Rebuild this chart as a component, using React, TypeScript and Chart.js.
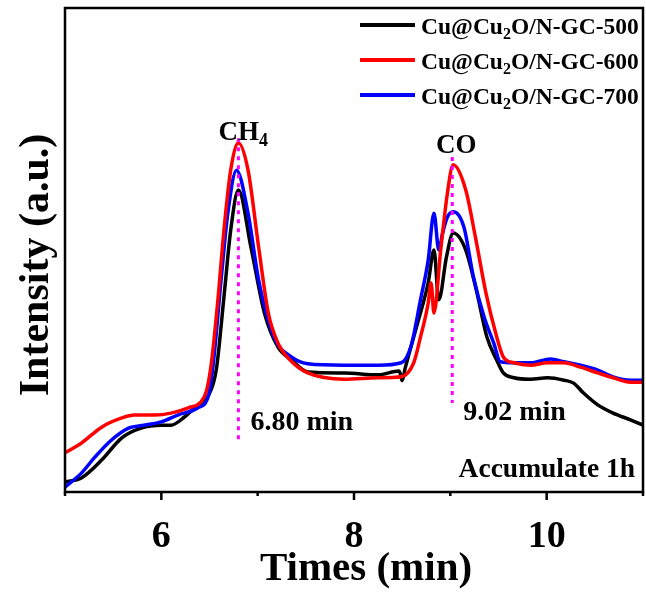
import React, { useEffect, useRef } from "react";
import { Chart, registerables } from "chart.js";

Chart.register(...registerables);

// Retention time (min) and detector intensity (a.u.) for each catalyst
const TIME_500 = [5.0, 5.17, 5.38, 5.59, 5.79, 6.0, 6.1, 6.24, 6.38, 6.49, 6.57, 6.65, 6.72, 6.8, 6.93, 7.07, 7.21, 7.35, 7.52, 7.9, 8.25, 8.47, 8.5, 8.53, 8.66, 8.77, 8.83, 8.88, 8.96, 9.03, 9.16, 9.27, 9.38, 9.48, 9.55, 9.66, 9.83, 10.01, 10.18, 10.28, 10.38, 10.53, 10.69, 10.87, 11.0];
const INT_500 = [2.1, 2.9, 6.6, 11.2, 13.2, 13.8, 13.8, 15.5, 18.0, 20.0, 25.2, 40.3, 54.1, 62.4, 50.6, 37.0, 30.0, 27.3, 24.8, 24.6, 24.2, 25.0, 23.0, 25.5, 34.9, 43.2, 50.0, 39.7, 48.6, 53.5, 50.0, 41.7, 32.0, 27.3, 24.6, 23.6, 23.3, 23.6, 23.1, 22.5, 20.5, 18.0, 16.3, 14.9, 13.8];

const TIME_600 = [5.0, 5.17, 5.38, 5.59, 5.72, 5.93, 6.1, 6.28, 6.41, 6.47, 6.52, 6.59, 6.65, 6.72, 6.8, 6.9, 7.01, 7.11, 7.21, 7.35, 7.52, 7.9, 8.25, 8.49, 8.62, 8.69, 8.77, 8.8, 8.83, 8.9, 8.97, 9.03, 9.16, 9.26, 9.37, 9.47, 9.55, 9.66, 9.83, 10.01, 10.18, 10.35, 10.53, 10.69, 10.87, 11.0];
const INT_600 = [8.1, 10.1, 13.4, 15.3, 15.9, 15.9, 16.3, 17.4, 18.6, 21.0, 26.7, 40.3, 54.1, 66.5, 72.1, 66.5, 50.6, 37.0, 30.8, 27.0, 24.6, 23.3, 23.6, 23.8, 26.7, 32.0, 39.0, 43.2, 37.0, 50.0, 61.8, 67.6, 62.4, 52.7, 41.1, 32.9, 27.9, 26.7, 26.2, 26.7, 26.7, 25.8, 24.6, 23.6, 22.7, 22.7];

const TIME_700 = [5.0, 5.17, 5.31, 5.48, 5.66, 5.82, 6.0, 6.17, 6.38, 6.49, 6.54, 6.62, 6.69, 6.78, 6.9, 7.01, 7.17, 7.35, 7.52, 7.9, 8.25, 8.49, 8.59, 8.69, 8.77, 8.83, 8.88, 8.92, 8.97, 9.03, 9.14, 9.24, 9.35, 9.45, 9.52, 9.66, 9.83, 10.04, 10.18, 10.35, 10.53, 10.69, 10.87, 11.0];
const INT_700 = [1.0, 3.9, 7.2, 10.7, 13.2, 13.8, 14.5, 15.9, 17.4, 20.0, 26.7, 43.8, 57.6, 66.5, 57.6, 43.8, 32.0, 27.9, 26.5, 26.2, 26.2, 26.7, 30.0, 39.7, 47.9, 57.6, 50.0, 53.5, 56.8, 57.9, 54.8, 44.4, 36.2, 30.8, 26.9, 26.7, 26.7, 27.5, 26.9, 26.2, 25.2, 23.8, 23.1, 23.1];

// "_" marks the following character as a subscript
const SERIES_LABELS = ["Cu@Cu_2O/N-GC-500", "Cu@Cu_2O/N-GC-600", "Cu@Cu_2O/N-GC-700"];
const SERIES_COLORS = ["#000000", "#ff0000", "#0000ff"];

const X_TICKS = [5, 6, 7, 8, 9, 10, 11];
const X_TICK_LABELS = ["", "6", "", "8", "", "10", ""];

// Peak retention markers: time, top and bottom of the dotted guide
const PEAK_TIMES = [6.8, 9.02];
const PEAK_TOPS = [73.1, 69.2];
const PEAK_BOTTOMS = [10.3, 18.4];
const PEAK_NAMES = ["CH_4", "CO"];
const PEAK_TIME_LABELS = ["6.80 min", "9.02 min"];

const NOTE = "Accumulate 1h";
const X_TITLE = "Times (min)";
const Y_TITLE = "Intensity (a.u.)";

const SERIF = '"Times New Roman", "Liberation Serif", serif';

function segments(label: string): { text: string; sub: boolean }[] {
  const out: { text: string; sub: boolean }[] = [];
  const re = /_(.)/g;
  let last = 0;
  let m: RegExpExecArray | null;
  while ((m = re.exec(label))) {
    if (m.index > last) out.push({ text: label.slice(last, m.index), sub: false });
    out.push({ text: m[1], sub: true });
    last = m.index + 2;
  }
  if (last < label.length) out.push({ text: label.slice(last), sub: false });
  return out;
}

function richWidth(ctx: CanvasRenderingContext2D, label: string, size: number, subSize: number) {
  let w = 0;
  for (const s of segments(label)) {
    ctx.font = `bold ${s.sub ? subSize : size}px ${SERIF}`;
    w += ctx.measureText(s.text).width;
  }
  return w;
}

function drawRich(ctx: CanvasRenderingContext2D, label: string, x: number, y: number, size: number, subSize: number, subDrop: number) {
  let cx = x;
  ctx.textAlign = "left";
  ctx.textBaseline = "alphabetic";
  for (const s of segments(label)) {
    ctx.font = `bold ${s.sub ? subSize : size}px ${SERIF}`;
    ctx.fillText(s.text, cx, s.sub ? y + subDrop : y);
    cx += ctx.measureText(s.text).width;
  }
}

const decorations = {
  id: "decorations",
  afterDatasetsDraw(chart: any) {
    const { ctx, scales } = chart;
    const xs = scales.x;
    const ys = scales.y;
    ctx.save();
    ctx.strokeStyle = "#ff00ff";
    ctx.lineWidth = 3;
    ctx.setLineDash([4, 5]);
    PEAK_TIMES.forEach((t, i) => {
      const x = xs.getPixelForValue(t);
      ctx.beginPath();
      ctx.moveTo(x, ys.getPixelForValue(PEAK_TOPS[i]));
      ctx.lineTo(x, ys.getPixelForValue(PEAK_BOTTOMS[i]));
      ctx.stroke();
    });
    ctx.restore();
  },
  afterDraw(chart: any) {
    const { ctx, chartArea, scales } = chart;
    const xs = scales.x;
    const { left, right, top, bottom } = chartArea;
    ctx.save();
    ctx.fillStyle = "#000";
    ctx.strokeStyle = "#000";

    // frame
    ctx.lineWidth = 2.5;
    ctx.strokeRect(left, top, right - left, bottom - top);

    // bottom ticks and labels
    X_TICKS.forEach((t, i) => {
      const x = xs.getPixelForValue(t);
      const major = X_TICK_LABELS[i] !== "";
      ctx.beginPath();
      ctx.moveTo(x, bottom);
      ctx.lineTo(x, bottom + (major ? 8 : 4));
      ctx.stroke();
      if (major) {
        ctx.font = `bold 38px ${SERIF}`;
        ctx.textAlign = "center";
        ctx.textBaseline = "alphabetic";
        ctx.fillText(X_TICK_LABELS[i], x, bottom + 55);
      }
    });

    // axis titles
    ctx.font = `bold 41px ${SERIF}`;
    ctx.textAlign = "center";
    ctx.textBaseline = "alphabetic";
    ctx.fillText(X_TITLE, (left + right) / 2 + 12, bottom + 88);

    ctx.save();
    ctx.translate(48, (top + bottom) / 2 + 15);
    ctx.rotate(-Math.PI / 2);
    ctx.font = `bold 42px ${SERIF}`;
    ctx.textAlign = "center";
    ctx.fillText(Y_TITLE, 0, 0);
    ctx.restore();

    // legend
    SERIES_LABELS.forEach((label, i) => {
      const y = top + 17 + i * 35;
      ctx.strokeStyle = SERIES_COLORS[i];
      ctx.lineWidth = 4;
      ctx.beginPath();
      ctx.moveTo(360, y);
      ctx.lineTo(415, y);
      ctx.stroke();
      ctx.fillStyle = "#000";
      drawRich(ctx, label, 421, y + 9, 23.5, 16, 5);
    });

    // peak names and retention times
    const ys = scales.y;
    PEAK_NAMES.forEach((name, i) => {
      const x = xs.getPixelForValue(PEAK_TIMES[i]);
      const w = richWidth(ctx, name, 27, 18);
      const y = ys.getPixelForValue(PEAK_TOPS[i]) + (i === 0 ? 2 : -4);
      drawRich(ctx, name, x - (i === 0 ? 20 : w / 2 - 4), y, 27, 18, 6);
      ctx.font = `bold 28px ${SERIF}`;
      ctx.textAlign = "left";
      ctx.fillText(PEAK_TIME_LABELS[i], x + (i === 0 ? 12 : 11), ys.getPixelForValue(PEAK_BOTTOMS[i]) + (i === 0 ? -12 : 17));
    });

    ctx.font = `bold 27.5px ${SERIF}`;
    ctx.textAlign = "right";
    ctx.fillText(NOTE, right - 8, bottom - 15);

    ctx.restore();
  },
};

export default function App() {
  const canvasRef = useRef<HTMLCanvasElement | null>(null);

  useEffect(() => {
    const canvas = canvasRef.current;
    if (!canvas) return;
    const series = [
      { t: TIME_500, v: INT_500 },
      { t: TIME_600, v: INT_600 },
      { t: TIME_700, v: INT_700 },
    ];
    const drawOrder = [2, 0, 1];
    const chart = new Chart(canvas, {
      type: "line",
      data: {
        datasets: series.map((s, i) => ({
          label: SERIES_LABELS[i].replace("_", ""),
          data: s.t.map((t, j) => ({ x: t, y: s.v[j] })),
          borderColor: SERIES_COLORS[i],
          borderWidth: 3.5,
          pointRadius: 0,
          fill: false,
          cubicInterpolationMode: "monotone" as const,
          order: drawOrder[i],
        })),
      },
      options: {
        responsive: false,
        animation: false,
        layout: { padding: { left: 65, top: 8, right: 3, bottom: 104 } },
        plugins: { legend: { display: false }, tooltip: { enabled: false } },
        scales: {
          x: { type: "linear", min: 5, max: 11, display: false },
          y: { min: 0, max: 100, display: false },
        },
      },
      plugins: [decorations],
    });
    return () => chart.destroy();
  }, []);

  return (
    <div style={{ position: "fixed", left: 0, top: 0, width: 646, height: 596, background: "#fff" }}>
      <canvas ref={canvasRef} width={646} height={596} style={{ display: "block" }} />
    </div>
  );
}
